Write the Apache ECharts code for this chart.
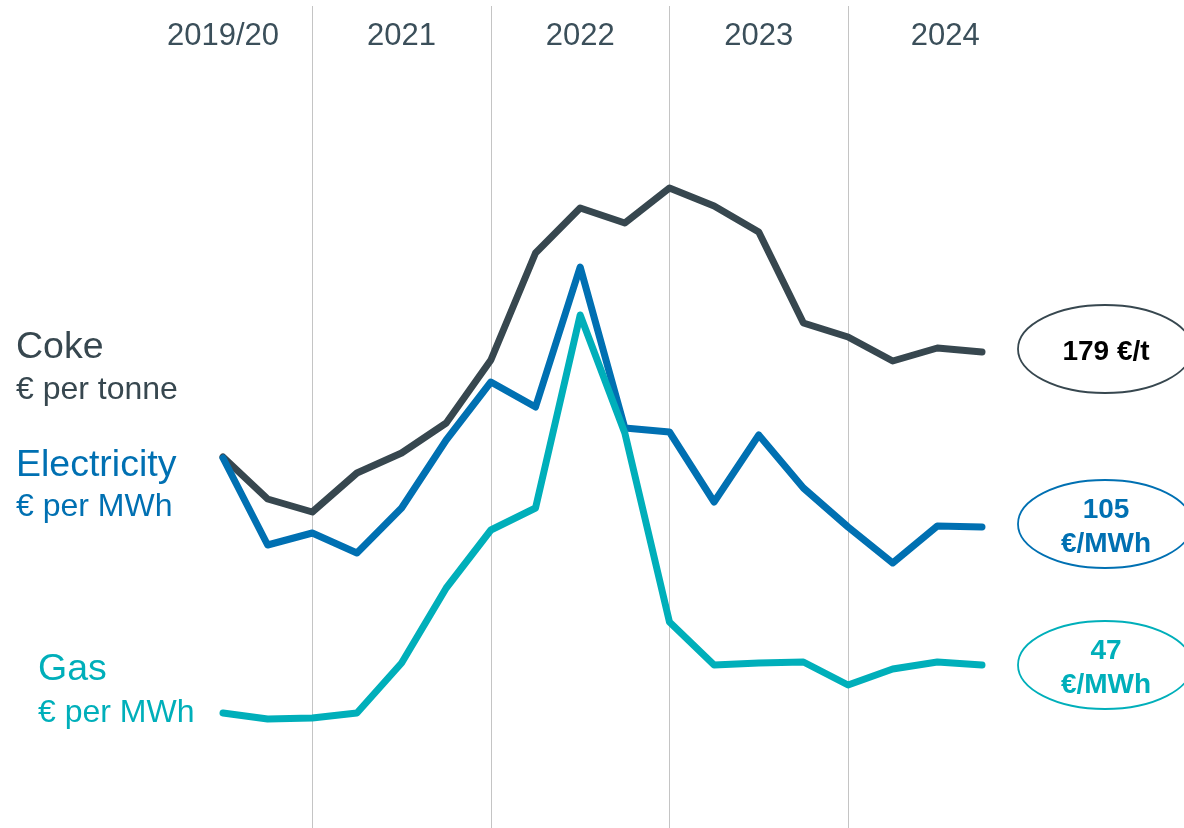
<!DOCTYPE html>
<html>
<head>
<meta charset="utf-8">
<script src="https://cdn.jsdelivr.net/npm/echarts@6/dist/echarts.min.js"></script>
<style>
html,body{margin:0;padding:0;background:#fff;}
#main{width:1184px;height:828px;}
</style>
</head>
<body>
<div id="main"></div>
<script>
// ---- data (chart units) ----
const quarters = ['Q3 2020','Q4 2020','Q1 2021','Q2 2021','Q3 2021','Q4 2021','Q1 2022','Q2 2022','Q3 2022','Q4 2022','Q1 2023','Q2 2023','Q3 2023','Q4 2023','Q1 2024','Q2 2024','Q3 2024','Q4 2024'];
const coke        = [185.5,164.5,158,177.5,187.5,202.5,234,287.5,310,302.5,320,311,298,252.5,245.5,233.5,240,238];
const electricity = [185,141.5,147.5,137.5,160,194,223,210.5,280.5,200,198,163,196.5,170,150.5,132.5,151,150.5];
const gas         = [57.5,54.5,55,57.5,82.5,120,149,160,256.5,197.5,103,81.5,82.5,83,71.5,79.5,83,81.5];
const yearLabels  = ['2019/20','2021','2022','2023','2024'];
const yearLabelAt = [0,4,8,12,16];
const yearBoundaries = [2,6,10,14];
const seriesNames = ['Coke','Electricity','Gas'];
const seriesUnits = ['€ per tonne','€ per MWh','€ per MWh'];
const endLabels   = ['179 €/t','105\n€/MWh','47\n€/MWh'];

// ---- styling ----
const FONT = '"Liberation Sans", Arial, sans-serif';
const colors = ['#37474F','#0070B2','#00AFBA'];
const seriesData = [coke, electricity, gas];

const chart = echarts.init(document.getElementById('main'), null, {renderer:'canvas'});

const option = {
  animation: false,
  backgroundColor: '#ffffff',
  grid: {left: 223, right: 202, top: 6, bottom: 0, containLabel: false},
  xAxis: {
    type: 'category',
    data: quarters,
    boundaryGap: false,
    position: 'top',
    axisLine: {show: false},
    axisTick: {show: false},
    axisLabel: {
      inside: true,
      margin: 30,
      verticalAlign: 'middle',
      color: '#3B4F5A',
      fontSize: 31,
      fontFamily: FONT,
      interval: function (i) { return yearLabelAt.indexOf(i) >= 0; },
      formatter: function (v, i) {
        const k = yearLabelAt.indexOf(i);
        if (k < 0) return '';
        return k === yearLabels.length - 1 ? '{s|' + yearLabels[k] + '}' : yearLabels[k];
      },
      rich: {
        s: {padding: [0, 0, 0, 16], fontSize: 31, fontFamily: FONT, color: '#3B4F5A'}
      }
    },
    splitLine: {
      show: true,
      interval: function (i) { return yearBoundaries.indexOf(i) >= 0; },
      lineStyle: {color: '#C4C4C4', width: 1}
    }
  },
  yAxis: {type: 'value', min: 0, max: 411, show: false, splitLine: {show: false}},
  series: seriesNames.map(function (name, i) {
    return {
      name: name,
      type: 'line',
      data: seriesData[i],
      symbol: 'none',
      lineStyle: {color: colors[i], width: 7, cap: 'round', join: 'round'},
      itemStyle: {color: colors[i]},
      z: 2 + i
    };
  })
};
chart.setOption(option);

// left-side series labels
const leftLabels = [
  {x: 16, y1: 348, y2: 390},
  {x: 16, y1: 466, y2: 507},
  {x: 38, y1: 670, y2: 713}
];
const graphics = [];
seriesNames.forEach(function (name, i) {
  const p = leftLabels[i];
  graphics.push({type: 'text', silent: true, x: p.x, y: p.y1,
    style: {text: name, fill: colors[i], fontSize: 37.5, fontFamily: FONT, verticalAlign: 'middle'}});
  graphics.push({type: 'text', silent: true, x: p.x, y: p.y2,
    style: {text: seriesUnits[i], fill: colors[i], fontSize: 32, fontFamily: FONT, verticalAlign: 'middle'}});
});

// end-value ellipses anchored to last data point of each series
const labelColors = ['#000000', colors[1], colors[2]];
seriesData.forEach(function (arr, i) {
  const last = arr.length - 1;
  const pt = chart.convertToPixel({gridIndex: 0}, [quarters[last], arr[last]]);
  const cx = pt[0] + 123;
  const cy = pt[1] - (i === 2 ? 0 : 3);
  graphics.push({type: 'ellipse', silent: true,
    shape: {cx: cx, cy: cy, rx: 87, ry: 44},
    style: {fill: 'none', stroke: colors[i], lineWidth: 1.8}});
  graphics.push({type: 'text', silent: true, x: cx + 1, y: cy + 3,
    style: {text: endLabels[i], fill: labelColors[i], fontSize: 28, fontWeight: 'bold',
      fontFamily: FONT, align: 'center', verticalAlign: 'middle', lineHeight: 34}});
});
chart.setOption({graphic: graphics});
</script>
</body>
</html>
